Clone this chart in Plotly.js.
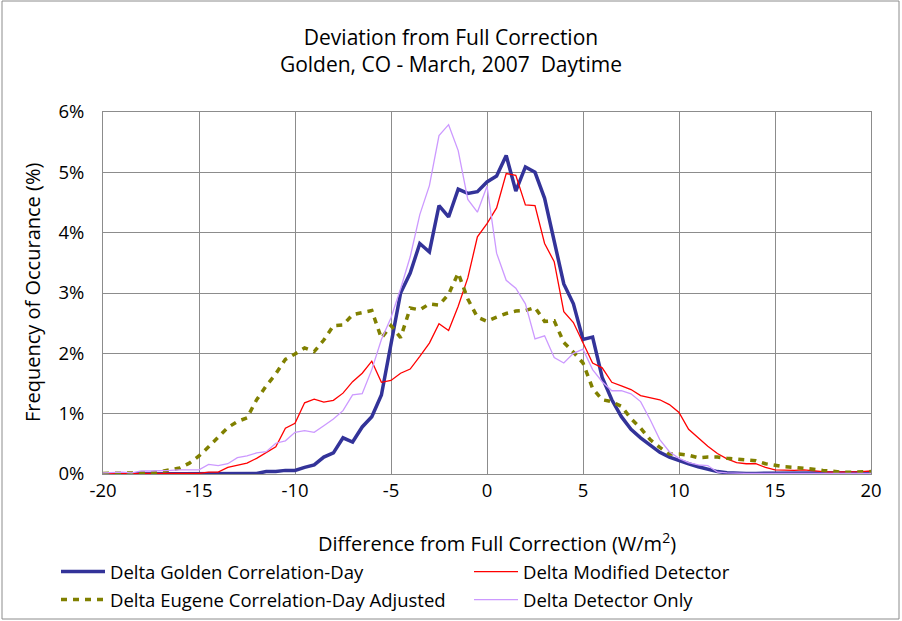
<!DOCTYPE html>
<html>
<head>
<meta charset="utf-8">
<script src="https://cdn.plot.ly/plotly-3.0.1.min.js"></script>
<style>html,body{margin:0;padding:0;background:#fff;}#chart{width:902px;height:621px;}</style>
</head>
<body>
<div id="chart"></div>
<script>
const xValues = [-20,-19.5,-19,-18.5,-18,-17.5,-17,-16.5,-16,-15.5,-15,-14.5,-14,-13.5,-13,-12.5,-12,-11.5,-11,-10.5,-10,-9.5,-9,-8.5,-8,-7.5,-7,-6.5,-6,-5.5,-5,-4.5,-4,-3.5,-3,-2.5,-2,-1.5,-1,-0.5,0,0.5,1,1.5,2,2.5,3,3.5,4,4.5,5,5.5,6,6.5,7,7.5,8,8.5,9,9.5,10,10.5,11,11.5,12,12.5,13,13.5,14,14.5,15,15.5,16,16.5,17,17.5,18,18.5,19,19.5,20];

const goldenDay = [0,0,0,0,0,0,0,0,0,0,0,0,0,0,0.01,0.01,0.01,0.04,0.04,0.06,0.06,0.11,0.15,0.28,0.35,0.6,0.53,0.78,0.95,1.31,2.15,3.0,3.33,3.82,3.68,4.45,4.26,4.72,4.65,4.68,4.84,4.94,5.28,4.69,5.09,5.0,4.57,3.88,3.15,2.82,2.23,2.27,1.6,1.23,0.95,0.74,0.6,0.48,0.36,0.28,0.22,0.17,0.12,0.08,0.04,0.02,0.01,0.01,0.01,0.01,0.01,0.01,0.01,0.01,0.01,0.01,0.01,0.01,0.01,0.01,0.02];

const modifiedDetector = [0.01,0.01,0.01,0.01,0.01,0.01,0.01,0.01,0.01,0.01,0.01,0.03,0.03,0.11,0.15,0.18,0.26,0.35,0.45,0.76,0.84,1.18,1.24,1.19,1.22,1.34,1.53,1.67,1.87,1.52,1.55,1.67,1.74,1.95,2.17,2.49,2.38,2.78,3.25,3.93,4.15,4.41,4.98,4.95,4.46,4.45,3.82,3.52,2.69,2.51,2.18,1.84,1.76,1.52,1.46,1.4,1.3,1.27,1.23,1.15,1.02,0.74,0.6,0.46,0.34,0.25,0.19,0.17,0.17,0.11,0.07,0.06,0.06,0.07,0.05,0.04,0.03,0.03,0.03,0.04,0.05];

const eugeneAdjusted = [0.01,0.01,0.01,0.01,0.02,0.02,0.04,0.07,0.1,0.18,0.3,0.45,0.61,0.77,0.87,0.93,1.23,1.46,1.66,1.9,1.99,2.09,2.03,2.22,2.46,2.47,2.64,2.68,2.71,2.25,2.46,2.26,2.75,2.72,2.82,2.8,2.98,3.33,2.9,2.6,2.53,2.6,2.66,2.7,2.71,2.76,2.53,2.54,2.18,2.02,1.84,1.42,1.23,1.2,1.12,0.92,0.76,0.57,0.44,0.33,0.33,0.31,0.27,0.28,0.28,0.26,0.25,0.24,0.22,0.17,0.14,0.12,0.11,0.1,0.08,0.06,0.04,0.03,0.03,0.03,0.04];

const detectorOnly = [0.02,0.03,0.03,0.02,0.05,0.05,0.05,0.06,0.07,0.07,0.07,0.16,0.14,0.17,0.27,0.3,0.35,0.37,0.51,0.55,0.69,0.72,0.69,0.8,0.91,1.05,1.31,1.33,1.73,2.23,2.59,3.07,3.6,4.3,4.78,5.61,5.79,5.36,4.55,4.34,4.77,3.66,3.21,3.08,2.82,2.24,2.29,1.93,1.84,2.0,2.07,1.73,1.53,1.38,1.38,1.33,1.2,0.9,0.57,0.37,0.26,0.19,0.15,0.14,0.03,0.02,0.01,0.01,0.01,0.01,0.01,0.01,0.01,0.01,0.01,0.01,0.01,0.01,0.01,0.01,0.01];

const seriesNames = ['Delta Golden Correlation-Day','Delta Modified Detector','Delta Eugene Correlation-Day Adjusted','Delta Detector Only'];
const xTickVals = [-20,-15,-10,-5,0,5,10,15,20];
const yTickVals = [0,1,2,3,4,5,6];
const chartTitle = 'Deviation from Full Correction<br>Golden, CO - March, 2007  Daytime';
const xTitle = 'Difference from Full Correction (W/m<sup>2</sup>)';
const yTitle = 'Frequency of Occurance (%)';

const FONT = '"Open Sans", "Noto Sans", sans-serif';

const traces = [
  {x: xValues, y: goldenDay, name: seriesNames[0], legend: 'legend', legendgroup: 'a', mode: 'lines', line: {color: '#333399', width: 3.5}},
  {x: xValues, y: modifiedDetector, name: seriesNames[1], legend: 'legend2', legendgroup: 'b', mode: 'lines', line: {color: '#FF0000', width: 1.3}},
  {x: xValues, y: eugeneAdjusted, name: seriesNames[2], legend: 'legend', legendgroup: 'c', mode: 'lines', line: {color: '#808000', width: 3.5, dash: '6px,6px'}},
  {x: xValues, y: detectorOnly, name: seriesNames[3], legend: 'legend2', legendgroup: 'd', mode: 'lines', line: {color: '#CC99FF', width: 1.3}}
];

const legendCommon = {
  orientation: 'v', xanchor: 'left', yanchor: 'top', xref: 'container', yref: 'container',
  y: 1 - 553 / 621, itemwidth: 44, tracegroupgap: 1, traceorder: 'grouped',
  font: {family: FONT, size: 18.5, color: '#000'}, bgcolor: 'rgba(0,0,0,0)', borderwidth: 0
};

const layout = {
  width: 902, height: 621,
  paper_bgcolor: '#ffffff', plot_bgcolor: '#ffffff',
  font: {family: FONT, color: '#000000', size: 18},
  margin: {l: 103, r: 31, t: 112, b: 147, autoexpand: false},
  title: {text: chartTitle, font: {family: FONT, size: 21, color: '#000'}, x: 0.5, xanchor: 'center', xref: 'container', yref: 'container', y: 1 - 45 / 621, yanchor: 'top'},
  xaxis: {
    range: [-20, 20], tickvals: xTickVals, ticktext: xTickVals.map(String),
    showgrid: true, gridcolor: '#8c8c8c', gridwidth: 1,
    showline: true, linecolor: '#8c8c8c', linewidth: 1, mirror: true,
    zeroline: false, ticks: '', ticklabelstandoff: 0, automargin: false,
    tickfont: {family: FONT, size: 18.5}
  },
  yaxis: {
    range: [0, 6], tickvals: yTickVals, ticktext: yTickVals.map(v => v + '%'),
    showgrid: true, gridcolor: '#8c8c8c', gridwidth: 1,
    showline: true, linecolor: '#8c8c8c', linewidth: 1, mirror: true,
    zeroline: false, ticks: '', ticklabelstandoff: 14, automargin: false,
    tickfont: {family: FONT, size: 18.5}
  },
  annotations: [
    {text: xTitle, xref: 'paper', yref: 'paper', x: (497 - 103) / 768, y: (474 - 542) / 362,
     xanchor: 'center', yanchor: 'middle', showarrow: false, font: {family: FONT, size: 20, color: '#000'}},
    {text: yTitle, xref: 'paper', yref: 'paper', x: (32 - 103) / 768, y: 0.5, textangle: -90,
     xanchor: 'center', yanchor: 'middle', showarrow: false, font: {family: FONT, size: 20, color: '#000'}}
  ],
  showlegend: true,
  legend: Object.assign({}, legendCommon, {x: 56 / 902}),
  legend2: Object.assign({}, legendCommon, {x: 469 / 902}),
  shapes: [
    {type: 'rect', xref: 'paper', yref: 'paper',
     x0: (2 - 103) / 768, x1: (899 - 103) / 768,
     y0: (474 - 619) / 362, y1: (474 - 1) / 362,
     line: {color: '#8c8c8c', width: 1}, fillcolor: 'rgba(0,0,0,0)', layer: 'below'}
  ]
};

Plotly.newPlot('chart', traces, layout, {displayModeBar: false, staticPlot: true});
</script>
</body>
</html>
